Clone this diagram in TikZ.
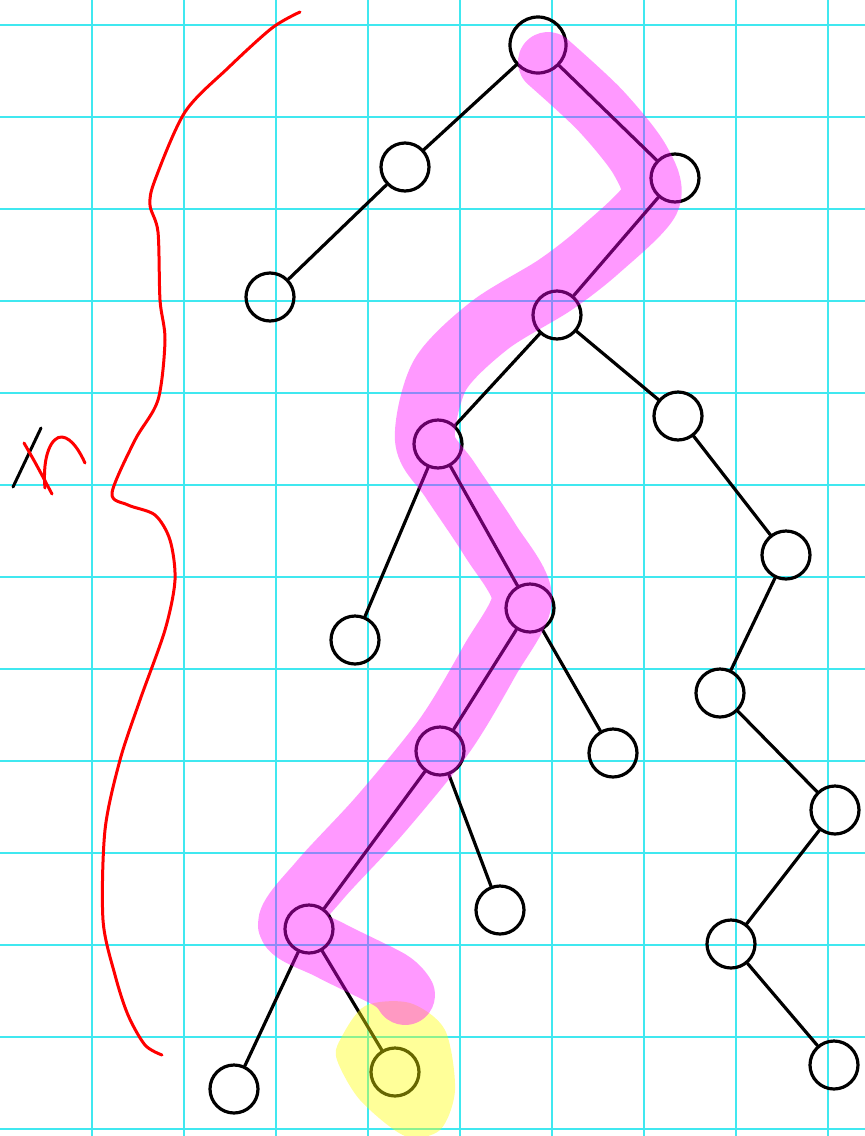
\documentclass[tikz,border=0pt]{standalone}
\usetikzlibrary{calc}
\definecolor{gridcyan}{RGB}{64,232,240}
\definecolor{hilite}{RGB}{255,0,255}
\definecolor{marker}{RGB}{255,255,0}
\definecolor{ink}{RGB}{255,0,0}

\begin{document}
\begin{tikzpicture}[x=1pt,y=-1pt,line cap=round,line join=round,
  gridline/.style={gridcyan,line width=2pt},
  knot/.style={circle,draw,line width=3.2pt,minimum size=48pt,inner sep=0pt},
  branch/.style={line width=3.2pt},
  pen/.style={ink,line width=3pt}]
  \useasboundingbox (0,0) rectangle (865,1136);
  % squared paper
  \foreach \x in {92,184,...,828} \draw[gridline] (\x,0) -- (\x,1136);
  \foreach \y in {25,117,...,1129} \draw[gridline] (0,\y) -- (865,\y);
  % the tree
  \node[knot,minimum size=56pt] (root) at (538,45) {};
  \node[knot] (l) at (405,167) {};
  \node[knot] (ll) at (270,297) {};
  \node[knot] (r) at (675,178) {};
  \node[knot] (a) at (557,315) {};
  \node[knot] (b) at (438,444) {};
  \node[knot] (c) at (678,416) {};
  \node[knot] (d) at (355,640) {};
  \node[knot] (e) at (530,608) {};
  \node[knot] (f) at (786,555) {};
  \node[knot] (g) at (720,693) {};
  \node[knot] (h) at (440,751) {};
  \node[knot] (i) at (613,753) {};
  \node[knot] (j) at (500,910) {};
  \node[knot] (k) at (835,810) {};
  \node[knot] (m) at (731,944) {};
  \node[knot] (n) at (309,929) {};
  \node[knot] (o) at (234,1089) {};
  \node[knot] (p) at (395,1072) {};
  \node[knot] (q) at (834,1065) {};
  \foreach \s/\t in {root/l,l/ll,root/r,r/a,a/b,a/c,b/d,b/e,e/h,e/i,h/j,h/n,
    n/o,n/p,c/f,f/g,g/k,k/m,m/q}
    \draw[branch] (\s) -- (\t);
  % marked leaf and path
  \fill[marker,opacity=.4] plot[smooth cycle] coordinates {(340,1040) (365,1006)
    (410,1003) (445,1030) (455,1090) (440,1130) (405,1136) (360,1100) (337,1060)};
  \draw[hilite,opacity=.4,line width=60pt] plot[smooth] coordinates {(548,62)
    (600,110) (640,160) (650,200) (600,250) (555,285) (490,325) (440,375)
    (425,440) (450,480) (490,540) (522,598) (490,660) (445,735) (380,815)
    (320,880) (288,925) (330,950) (390,980) (405,995)};
  % brace with its height
  \draw[pen] plot[smooth,tension=.5] coordinates {(300,12) (272,28) (228,68)
    (185,112) (155,180) (150,205) (158,232) (160,300) (165,340) (158,400)
    (135,440) (112,493) (128,505) (155,515) (170,540) (175,580) (165,630)
    (140,700) (120,760) (105,830) (103,920) (115,975) (128,1015) (145,1045)
    (162,1055)};
  \draw[line width=3pt] (41,428) -- (13,487);
  \draw[pen] (24,443) .. controls (35,462) .. (52,494);
  \draw[pen] (45,488) .. controls (42,455) and (52,436) .. (62,437)
    .. controls (72,438) and (80,452) .. (85,463);
\end{tikzpicture}
\end{document}
